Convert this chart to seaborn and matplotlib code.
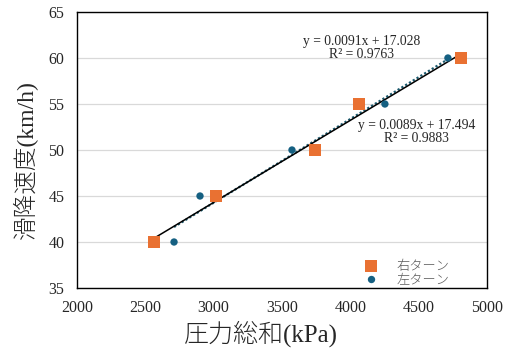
import numpy as np
import pandas as pd
import matplotlib
matplotlib.use("Agg")
import matplotlib.pyplot as plt
import seaborn as sns

# data
right_x = [2563, 3017, 3741, 4063, 4809]
right_y = [40, 45, 50, 55, 60]
left_x = [2710, 2900, 3573, 4253, 4714]
left_y = [40, 45, 50, 55, 60]
series_names = ["右ターン", "左ターン"]
eq_left = "y = 0.0091x + 17.028\nR² = 0.9763"
eq_right = "y = 0.0089x + 17.494\nR² = 0.9883"
xlabel = "圧力総和(kPa)"
ylabel = "滑降速度(km/h)"

sns.set_theme(style="white")
plt.rcParams['font.family'] = ['Liberation Serif', 'Noto Sans CJK JP']

df = pd.DataFrame({
    "x": right_x + left_x,
    "y": right_y + left_y,
    "turn": [series_names[0]] * len(right_x) + [series_names[1]] * len(left_x),
})

fig = plt.figure(figsize=(5.07, 3.49), dpi=100)
ax = fig.add_axes([77/507, 1-288/349, 410/507, 276/349])

orange = "#E97132"
blue = "#156082"

ax.yaxis.grid(True, color="#d9d9d9", linewidth=0.9)
ax.set_axisbelow(True)

sns.regplot(x=left_x, y=left_y, ax=ax, ci=None, scatter=False,
            line_kws=dict(color="#1b5a6e", linestyle=(0, (1, 1)), linewidth=1.6, zorder=3))
sns.regplot(x=right_x, y=right_y, ax=ax, ci=None, scatter=False,
            line_kws=dict(color="black", linewidth=1.1, zorder=4))

sns.scatterplot(data=df, x="x", y="y", hue="turn", style="turn",
                palette={series_names[0]: orange, series_names[1]: blue},
                markers={series_names[0]: "s", series_names[1]: "o"},
                size="turn", sizes={series_names[0]: 70, series_names[1]: 28},
                linewidth=0, ax=ax, zorder=5, legend=True)

ax.set_xlim(2000, 5000)
ax.set_ylim(35, 65)
ax.set_xticks(np.arange(2000, 5001, 500))
ax.set_yticks(np.arange(35, 66, 5))
ax.tick_params(axis="both", labelsize=11.5, length=0, pad=9, colors="#262626")
for s in ax.spines.values():
    s.set_color("black")
    s.set_linewidth(1.0)

ax.set_xlabel(xlabel, fontsize=18, va="center", ha="center", fontweight="light", color="#262626")
ax.set_ylabel(ylabel, fontsize=17, va="center", ha="center", fontweight="light", color="#262626")
ax.xaxis.set_label_coords((260.5 - 77) / 410, (288 - 334) / 276)
ax.yaxis.set_label_coords((25 - 77) / 410, (288 - 160) / 276)

ax.text(4085, 61.1, eq_left, ha="center", va="center", fontsize=9.8, linespacing=1.0)
ax.text(4487, 52.0, eq_right, ha="center", va="center", fontsize=9.8, linespacing=1.0)

leg = ax.legend(loc="lower right", bbox_to_anchor=(0.93, -0.027), frameon=False,
                handletextpad=0.9, labelspacing=0.0, borderaxespad=0.3,
                prop={'family': ['Noto Sans CJK JP'], 'size': 9.5, 'weight': 'light'})
for t in leg.get_texts():
    t.set_color("#595959")

fig.savefig("out.png", dpi=100)
